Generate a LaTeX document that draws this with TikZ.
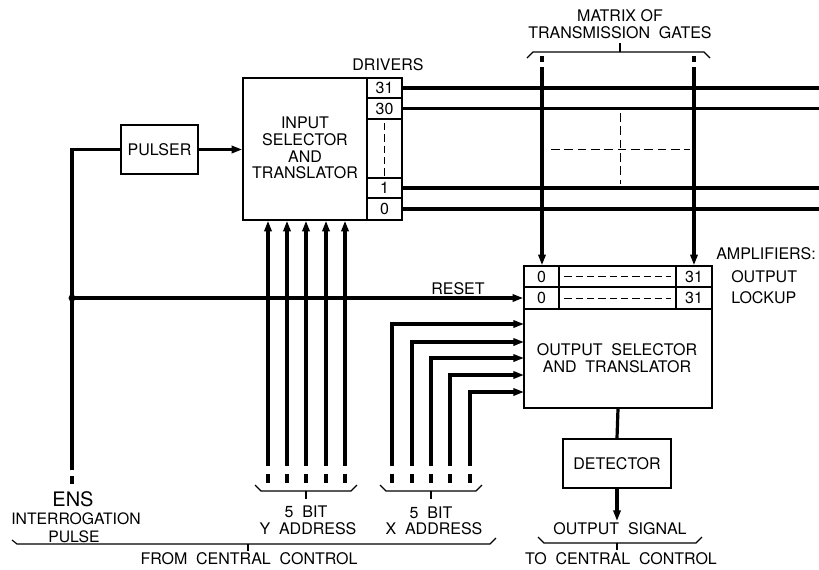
\documentclass[tikz,border=0pt]{standalone}
\usepackage{fontspec}
\setmainfont{TeX Gyre Heros}
\usetikzlibrary{arrows.meta,fit}
\newcommand\mywidesp{\spaceskip=0.55em\relax}
\begin{document}
\begin{tikzpicture}[x=0.75pt,y=-0.75pt,
  every node/.style={font=\fontsize{12}{12.5}\selectfont},
  box/.style={draw,line width=1.1pt,inner sep=0pt},
  sig/.style={line width=2.4pt},
  arr/.style={-{Triangle[length=8pt,width=5.4pt]}},
  thindash/.style={line width=0.75pt,dash pattern=on 5.5pt off 3pt},
  brace/.style={line width=0.85pt},
  lbl/.style={inner sep=0pt,align=center},
  wide/.style={execute at begin node=\mywidesp}
]
\fill[white] (0,0) rectangle (819,569);
\useasboundingbox (0,0) rectangle (819,569);

% ---------- boxes ----------
\node[box,fit={(243,78)(367,220)}] (insel) {};
\node[box,fit={(367,78)(402,98)}]  (d31) {};
\node[box,fit={(367,98)(402,119)}] (d30) {};
\node[box,fit={(367,119)(402,178)}] (ddots) {};
\node[box,fit={(367,178)(402,198)}] (d1) {};
\node[box,fit={(367,198)(402,220)}] (d0) {};
\node[box,fit={(121,125)(198,174)}] (pulser) {};

\node[box,fit={(524,266)(559,287)}] (a0) {};
\node[box,fit={(559,266)(676,287)}] (amid) {};
\node[box,fit={(676,266)(712,287)}] (a31) {};
\node[box,fit={(524,287)(559,309)}] (l0) {};
\node[box,fit={(559,287)(676,309)}] (lmid) {};
\node[box,fit={(676,287)(712,309)}] (l31) {};
\node[box,fit={(524,309)(712,408)}] (outsel) {};
\node[box,fit={(563,439)(671,488)}] (det) {};

% box texts
\node[lbl] (tinsel) at (305,148) {INPUT\\SELECTOR\\AND\\TRANSLATOR};
\node[lbl] (t31) at (d31.center) {31};
\node[lbl] (t30) at (d30.center) {30};
\node[lbl] (t1) at (d1.center) {1};
\node[lbl] (t0) at (d0.center) {0};
\node[lbl] (tpul) at (pulser.center) {PULSER};
\node[lbl] (ta0) at (a0.center) {0};
\node[lbl] (ta31) at (a31.center) {31};
\node[lbl] (tl0) at (l0.center) {0};
\node[lbl] (tl31) at (l31.center) {31};
\node[lbl,wide] (tout) at (617,358) {OUTPUT SELECTOR\\AND TRANSLATOR};
\node[lbl] (tdet) at (det.center) {DETECTOR};

% dashed fillers
\draw[thindash] (ddots.north |- 0,123) -- (ddots.south |- 0,176);
\draw[thindash] ([xshift=4.5pt]amid.west) -- ([xshift=-4.5pt]amid.east);
\draw[thindash] ([xshift=4.5pt]lmid.west) -- ([xshift=-4.5pt]lmid.east);

% ---------- labels ----------
\node[lbl] (drv) at (388,65) {DRIVERS};
\node[lbl] (mat1) at (620,16) {MATRIX OF};
\node[lbl,wide] (mat2) at (620,33) {TRANSMISSION GATES};
\node[lbl,anchor=west] (ampl) at (716,254) {AMPLIFIERS:};
\node[lbl,anchor=west] (outl) at (731,277) {OUTPUT};
\node[lbl,anchor=west] (lckl) at (731,298) {LOCKUP};
\node[lbl] (rst) at (458,289) {RESET};
\node[lbl,font=\fontsize{15}{15}\selectfont] (ens) at (73,499) {ENS};
\node[lbl,font=\fontsize{11.8}{12}\selectfont] (intr) at (76,519) {INTERROGATION};
\node[lbl,font=\fontsize{11.8}{12}\selectfont] (pls) at (74,537) {PULSE};
\node[lbl,wide] (y5) at (306,512) {5 BIT};
\node[lbl,wide] (yad) at (308,529) {Y ADDRESS};
\node[lbl,wide] (x5) at (431,513) {5 BIT};
\node[lbl,wide] (xad) at (434,529) {X ADDRESS};
\node[lbl,wide] (osig) at (620,529) {OUTPUT SIGNAL};
\node[lbl,wide] (tcc) at (621,559) {TO CENTRAL CONTROL};
\node[lbl,wide] (fcc) at (249,559) {FROM CENTRAL CONTROL};

% ---------- coordinates ----------
\coordinate (redge) at (819,0);
\coordinate (ensb) at (72,470);
\coordinate (junc) at (72,298);
\coordinate (m1) at (542,67);
\coordinate (m2) at (694,67);
\coordinate (outend) at (617,521);

% ---------- connectors ----------
\draw[sig] (d31.east) -- (d31.east -| redge);
\draw[sig] (d30.east) -- (d30.east -| redge);
\draw[sig] (d1.east) -- (d1.east -| redge);
\draw[sig] (d0.east) -- (d0.east -| redge);

\draw[sig,arr] (m1) -- (m1 |- a0.north);
\draw[sig,arr] (m2) -- (m2 |- a31.north);
\draw[sig] (542,56) -- (542,62);
\draw[sig] (694,56) -- (694,62);

% dashed cross in matrix
\draw[thindash,dash pattern=on 6.5pt off 3.5pt] (551,149) -- (690,149);
\draw[thindash,dash pattern=on 6.5pt off 3.5pt] (620,113) -- (620,184);

\draw[sig] (ensb) |- (pulser.west);
\draw[sig,arr] (pulser.east) -- (pulser.east -| insel.west);
\draw[sig,arr] (junc) -- (junc -| l0.west);
\fill (junc) circle (2.6pt);
\draw[sig] (72,476) -- (72,484);

% Y address lines
\foreach \i/\x in {1/268,2/287,3/306,4/326,5/345}{
  \coordinate (yb\i) at (\x,466);
  \draw[sig,arr] (yb\i) -- (yb\i |- insel.south);
  \draw[sig] (\x,474) -- (\x,483);
}
% X address lines
\foreach \i/\x/\y in {1/392/324,2/412/342,3/431/358,4/450/375,5/470/392}{
  \coordinate (xb\i) at (\x,466);
  \coordinate (xr\i) at (524,\y);
  \draw[sig,arr] (xb\i) |- (xr\i);
  \draw[sig] (\x,474) -- (\x,483);
}

\draw[sig] (outsel.south) -- (det.north);
\draw[sig,arr] (det.south) -- (outend);

% ---------- braces ----------
\draw[brace] (527,58) -- (533,52) -- (704,52) -- (710,58);
\draw[brace] (620,52) -- (620,43);
\draw[brace] (255,485) -- (261,491) -- (351,491) -- (357,485);
\draw[brace] (306,491) -- (306,499);
\draw[brace] (380,485) -- (386,491) -- (476,491) -- (482,485);
\draw[brace] (431,491) -- (431,499);
\draw[brace] (538,537) -- (544,543) -- (696,543) -- (702,537);
\draw[brace] (617,543) -- (617,550);
\draw[brace] (12,540) -- (17,544) -- (490,544) -- (496,538);
\draw[brace] (248,544) -- (248,551);
\end{tikzpicture}
\end{document}
